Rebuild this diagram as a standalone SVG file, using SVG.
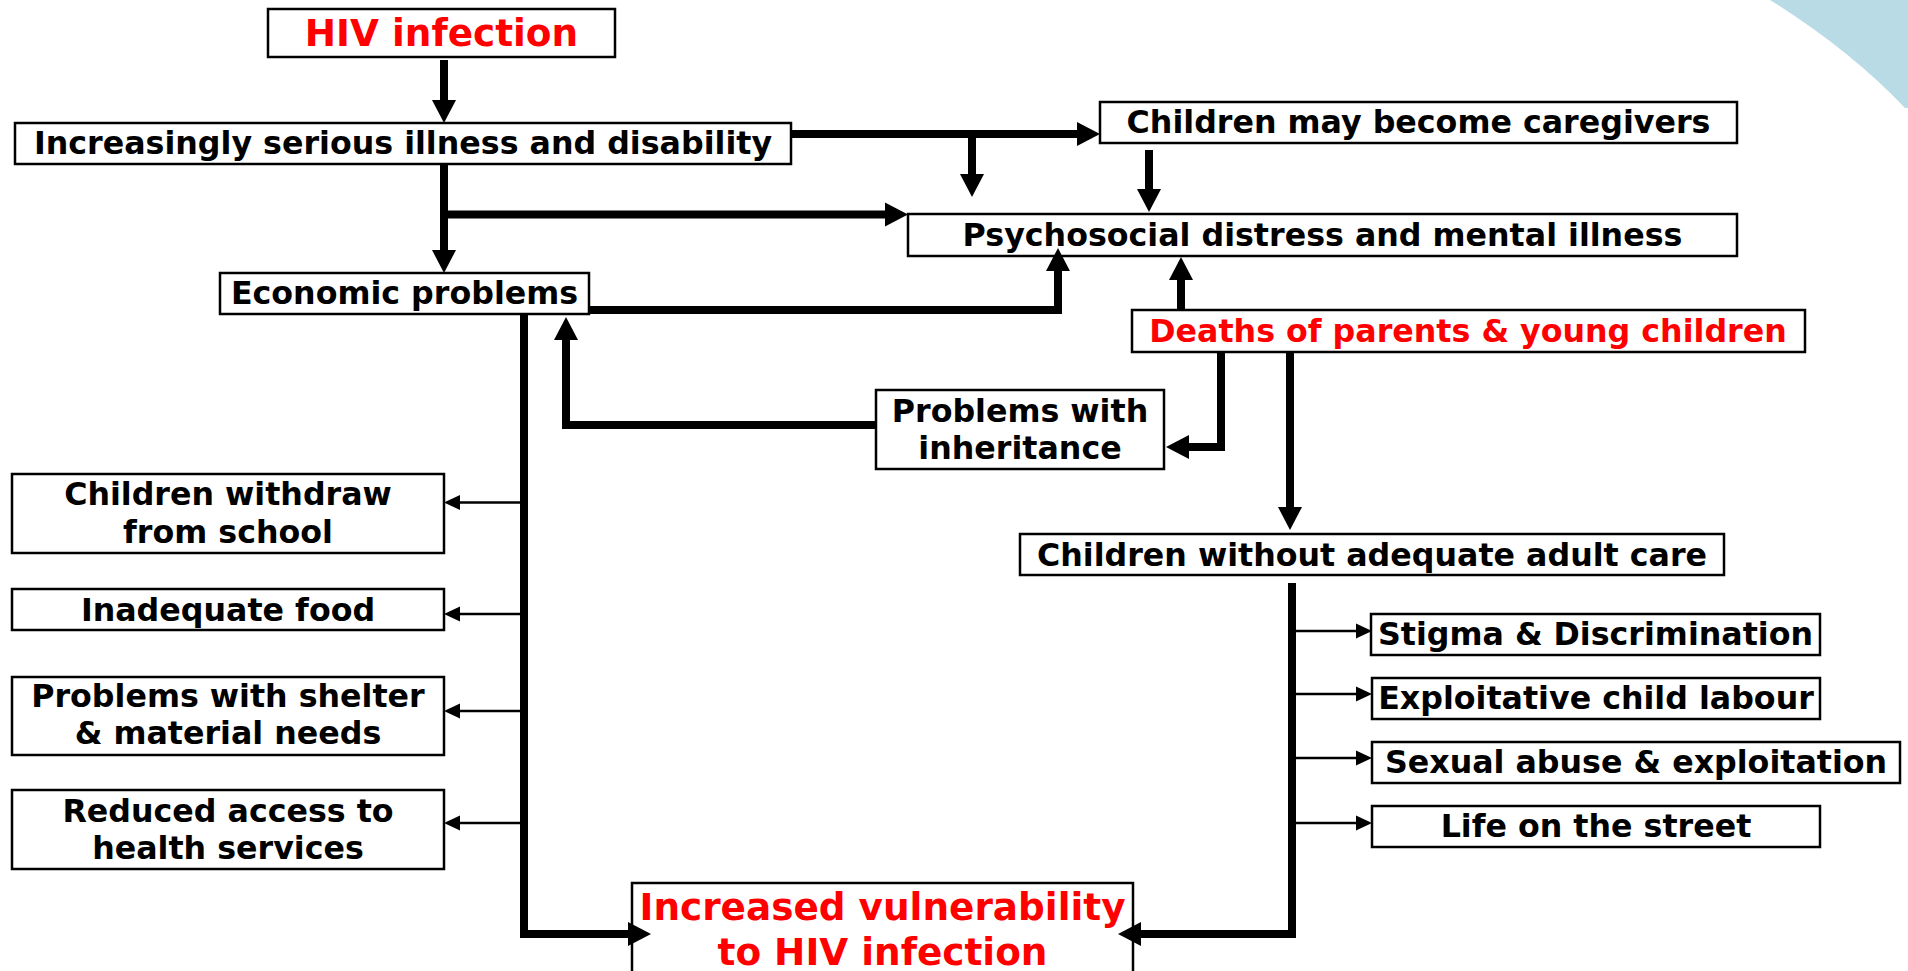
<svg xmlns="http://www.w3.org/2000/svg" width="1908" height="971" viewBox="0 0 1908 971">
<defs>
<style>
.box{fill:#fff;stroke:#000;stroke-width:2.5}
.t{font-family:"DejaVu Sans","Verdana",sans-serif;font-weight:bold;font-size:31.7px;fill:#000;text-anchor:middle}
.r{font-family:"DejaVu Sans","Verdana",sans-serif;font-weight:bold;font-size:31.7px;fill:#ff0000;text-anchor:middle}
.rb{font-size:37.4px}
.thick{fill:none;stroke:#000;stroke-width:8;stroke-linejoin:miter;marker-end:url(#ah)}
.thickn{fill:none;stroke:#000;stroke-width:8;stroke-linejoin:miter}
.thin{fill:none;stroke:#000;stroke-width:2.5;marker-end:url(#as)}
</style>
<marker id="ah" markerUnits="userSpaceOnUse" viewBox="0 -13 24 26" markerWidth="24" markerHeight="26" refX="1" refY="0" orient="auto">
<path d="M0,-12 L23,0 L0,12 Z" fill="#000"/>
</marker>
<marker id="as" markerUnits="userSpaceOnUse" viewBox="0 -9 17 18" markerWidth="17" markerHeight="18" refX="1" refY="0" orient="auto">
<path d="M0,-7.5 L16,0 L0,7.5 Z" fill="#000"/>
</marker>
</defs>
<rect width="1908" height="971" fill="#fff"/>
<path d="M1770,0 Q1850,50 1905,108 L1908,108 L1908,0 Z" fill="#b8dbe6"/>

<g id="hiv">
<rect class="box" x="268" y="9" width="347" height="48"/>
<text class="r rb" x="441.5" y="46">HIV infection</text>
</g>
<g id="illness">
<rect class="box" x="15" y="123" width="776" height="41"/>
<text class="t" x="403" y="154">Increasingly serious illness and disability</text>
</g>
<g id="caregivers">
<rect class="box" x="1100" y="102" width="637" height="41"/>
<text class="t" x="1418.5" y="133">Children may become caregivers</text>
</g>
<g id="psychosocial">
<rect class="box" x="908" y="214" width="829" height="42"/>
<text class="t" x="1322.5" y="246">Psychosocial distress and mental illness</text>
</g>
<g id="economic">
<rect class="box" x="220" y="273" width="369" height="41"/>
<text class="t" x="404.5" y="304">Economic problems</text>
</g>
<g id="deaths">
<rect class="box" x="1132" y="310" width="673" height="42"/>
<text class="r" x="1468" y="342">Deaths of parents &amp; young children</text>
</g>
<g id="inheritance">
<rect class="box" x="876" y="390" width="288" height="79"/>
<text class="t" x="1020" y="422">Problems with</text>
<text class="t" x="1020" y="459">inheritance</text>
</g>
<g id="without-care">
<rect class="box" x="1020" y="534" width="704" height="41"/>
<text class="t" x="1372" y="566">Children without adequate adult care</text>
</g>
<g id="withdraw">
<rect class="box" x="12" y="474" width="432" height="79"/>
<text class="t" x="228" y="505">Children withdraw</text>
<text class="t" x="228" y="543">from school</text>
</g>
<g id="food">
<rect class="box" x="12" y="589" width="432" height="41"/>
<text class="t" x="228" y="621">Inadequate food</text>
</g>
<g id="shelter">
<rect class="box" x="12" y="677" width="432" height="78"/>
<text class="t" x="228" y="707">Problems with shelter</text>
<text class="t" x="228" y="744">&amp; material needs</text>
</g>
<g id="health">
<rect class="box" x="12" y="790" width="432" height="79"/>
<text class="t" x="228" y="822">Reduced access to</text>
<text class="t" x="228" y="859">health services</text>
</g>
<g id="stigma">
<rect class="box" x="1371" y="614" width="449" height="41"/>
<text class="t" x="1595.5" y="645">Stigma &amp; Discrimination</text>
</g>
<g id="labour">
<rect class="box" x="1372" y="678" width="448" height="41"/>
<text class="t" x="1596" y="709">Exploitative child labour</text>
</g>
<g id="sexual">
<rect class="box" x="1372" y="742" width="528" height="41"/>
<text class="t" x="1636" y="773">Sexual abuse &amp; exploitation</text>
</g>
<g id="street">
<rect class="box" x="1372" y="806" width="448" height="41"/>
<text class="t" x="1596" y="837">Life on the street</text>
</g>
<g id="vulnerability">
<rect class="box" x="632" y="883" width="501" height="110"/>
<text class="r rb" x="882.5" y="920">Increased vulnerability</text>
<text class="r rb" x="882.5" y="965">to HIV infection</text>
</g>

<g id="connectors">
<path class="thick" d="M444,60 V101"/>
<path class="thick" d="M444,164 V251"/>
<path class="thick" d="M440,214.5 H886"/>
<path class="thick" d="M791,134 H1078"/>
<path class="thick" d="M972,134 V175"/>
<path class="thick" d="M1149,150 V190"/>
<path class="thick" d="M589,310 H1058 V270"/>
<path class="thick" d="M1181,310 V279"/>
<path class="thick" d="M876,425 H566 V339"/>
<path class="thick" d="M1221,352 V447 H1188"/>
<path class="thick" d="M1290,352 V508"/>
<path class="thick" d="M524,314 V934 H629"/>
<path class="thick" d="M1292,583 V934 H1140"/>
<path class="thin" d="M524,502.5 H459"/>
<path class="thin" d="M524,614 H459"/>
<path class="thin" d="M524,711 H459"/>
<path class="thin" d="M524,823 H459"/>
<path class="thin" d="M1292,631 H1357"/>
<path class="thin" d="M1292,694 H1357"/>
<path class="thin" d="M1292,758 H1357"/>
<path class="thin" d="M1292,823 H1357"/>
</g>
</svg>
